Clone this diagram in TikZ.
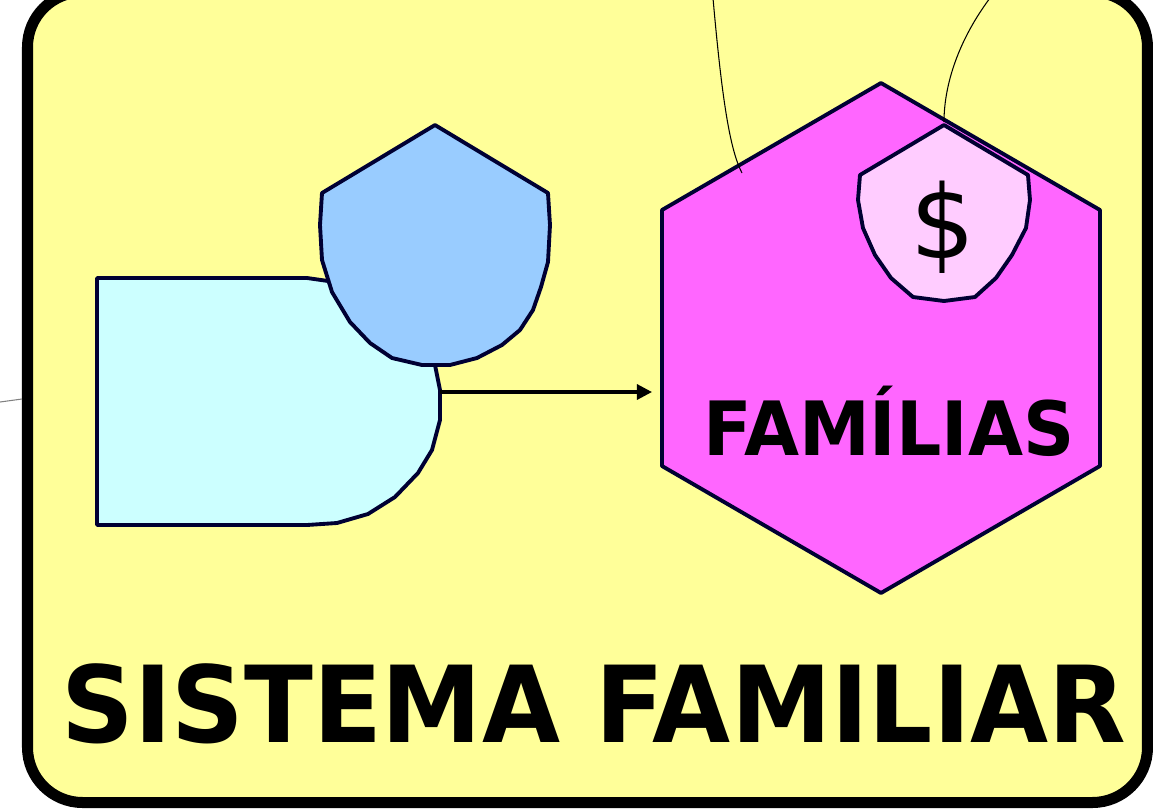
\documentclass[tikz,border=0pt]{standalone}
\usepackage{fontspec}
\setmainfont{DejaVu Sans}
\usetikzlibrary{arrows.meta}

\definecolor{bgyellow}{HTML}{FFFF99}
\definecolor{famcolor}{HTML}{FF66FF}
\definecolor{moneycolor}{HTML}{FFCCFF}
\definecolor{shieldcolor}{HTML}{99CCFF}
\definecolor{boxcolor}{HTML}{CCFFFF}
\definecolor{navyline}{HTML}{000033}

\begin{document}
\begin{tikzpicture}[
    x=0.01cm, y=-0.01cm,
    blob/.style={
        draw=navyline,
        line width=1.1pt,
        line join=round
    },
    arrow/.style={-{Triangle[length=1.5mm,width=1.5mm]}, line width=0.9pt},
    leader/.style={line width=0.3pt, black}
]

\fill[white] (0,0) rectangle (1153,808);
\useasboundingbox (0,0) rectangle (1153,808);

% frame
\draw[line width=0.11cm, fill=bgyellow, rounded corners=0.55cm]
    (27.5,-8) rectangle (1147.5,802.5);

% left block
\draw[blob, fill=boxcolor]
    (97,278) -- (307,278) -- (328,281) -- (380,330) -- (435,365)
    -- (440,390) -- (440,420) -- (432,450) -- (418,473) -- (395,497)
    -- (368,514) -- (337,523) -- (307,525) -- (97,525) -- cycle;

\draw[blob, fill=shieldcolor]
    (435,125) -- (548,193) -- (550,225) -- (548,262) -- (541,287)
    -- (533,310) -- (520,330) -- (502,345) -- (477,358) -- (450,365)
    -- (422,365) -- (392,358) -- (370,343) -- (350,322) -- (332,292)
    -- (322,260) -- (320,225) -- (322,193) -- cycle;

% families
\draw[blob, fill=famcolor]
    (881,83) -- (1100,210) -- (1100,466) -- (881,593)
    -- (662,466) -- (662,210) -- cycle;

\draw[blob, fill=moneycolor]
    (944,125) -- (1028,175) -- (1030,200) -- (1026,228) -- (1012,255)
    -- (996,278) -- (975,297) -- (944,301) -- (913,297) -- (891,278)
    -- (875,255) -- (863,228) -- (858,200) -- (860,175) -- cycle;

\node[font=\fontsize{29}{34}\selectfont, anchor=base, inner sep=0pt]
    (money) at (943,258) {\$};

\node[font=\fontsize{21.3}{26}\selectfont\bfseries, anchor=base, inner sep=0pt]
    (fam) at (889,455) {\scalebox{0.95}[1]{FAMÍLIAS}};

\node[font=\fontsize{30.2}{36}\selectfont\bfseries, anchor=base, inner sep=0pt]
    (title) at (594,742) {\scalebox{0.95}[1]{SISTEMA FAMILIAR}};

% arrow
\coordinate (boxE) at (440,392);
\coordinate (famW) at (652,392);
\draw[arrow] (boxE) -- (famW);

% leaders
\coordinate (leadA) at (713,-2);
\coordinate (leadAend) at (742,173);
\coordinate (leadB) at (990,-2);
\coordinate (leadBend) at (944,122);
\coordinate (leadC) at (0,402);
\coordinate (leadCend) at (22,399);
\draw[leader] (leadA) .. controls (722,100) and (730,150) .. (leadAend);
\draw[leader] (leadB) .. controls (955,45) and (944,90) .. (leadBend);
\draw[leader, gray] (leadC) -- (leadCend);

\end{tikzpicture}
\end{document}
